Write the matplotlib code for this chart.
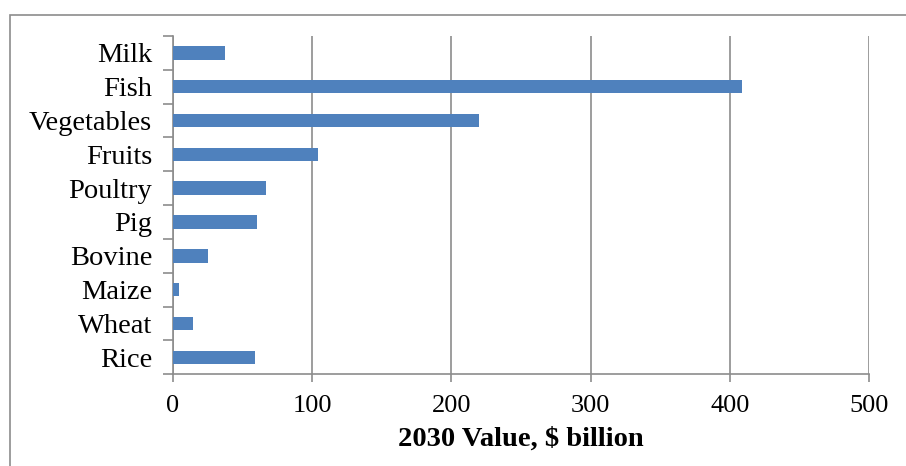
import numpy as np
import matplotlib.pyplot as plt
from matplotlib.patches import Rectangle

categories = ["Milk", "Fish", "Vegetables", "Fruits", "Poultry",
              "Pig", "Bovine", "Maize", "Wheat", "Rice"]
values = [37, 409, 220, 104, 67, 60.5, 25, 4.5, 14.5, 59]
xticks = [0, 100, 200, 300, 400, 500]

plt.rcParams['font.family'] = ['Liberation Serif', 'DejaVu Serif']
gray = '#8c8c8c'
bar_color = '#4f81bd'

fig = plt.figure(figsize=(9.06, 4.66), dpi=100)
ax = fig.add_axes([0.191, 0.197, 0.768, 0.726])

# outer chart frame (only top and left visible in the crop)
fig.patches.append(Rectangle((10 / 906, -0.1), 1.2, 1.1 - 15 / 466,
                             transform=fig.transFigure, fill=False,
                             edgecolor=gray, linewidth=1.2))

y = np.arange(len(categories))
ax.barh(y, values, height=0.4, color=bar_color, zorder=3)

ax.set_xlim(0, 500)
ax.set_ylim(len(categories) - 0.5, -0.5)
ax.set_xticks(xticks)
ax.set_xticklabels([str(t) for t in xticks], fontsize=19)
ax.set_yticks(y)
ax.set_yticklabels(categories, fontsize=20.5)
ax.set_yticks(np.arange(-0.5, len(categories)), minor=True)

ax.tick_params(axis='y', which='major', length=0, pad=15)
ax.tick_params(axis='y', which='minor', length=7, color=gray, width=1.2)
ax.tick_params(axis='x', length=6, color=gray, width=1.2, pad=9)

ax.xaxis.grid(True, color=gray, linewidth=1.2, zorder=0)
for s in ['top', 'right']:
    ax.spines[s].set_visible(False)
for s in ['left', 'bottom']:
    ax.spines[s].set_color(gray)
    ax.spines[s].set_linewidth(1.2)

ax.set_xlabel("2030 Value, \\$ billion", fontsize=20.5, fontweight='bold', labelpad=7)

fig.savefig("out.png", dpi=100)
